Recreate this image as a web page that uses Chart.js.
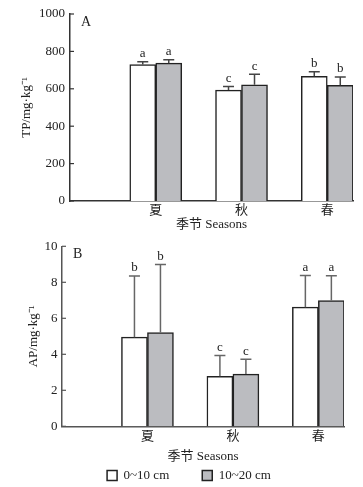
<!DOCTYPE html>
<html>
<head>
<meta charset="utf-8">
<script src="https://cdn.jsdelivr.net/npm/chart.js@4"></script>
<style>
  html, body { margin: 0; padding: 0; background: #fff; overflow: hidden; }
  canvas { display: block; }
</style>
</head>
<body>
<canvas id="chartA" width="363" height="234"></canvas>
<canvas id="chartB" width="363" height="253"></canvas>
<script>
const seasons = ["夏", "秋", "春"];
const depthLabels = ["0~10 cm", "10~20 cm"];

// A: TP (mg·kg-1)
const tpShallow    = [730, 593, 667];
const tpShallowErr = [14, 19, 24];
const tpDeep       = [737, 621, 619];
const tpDeepErr    = [19, 57, 44];
const tpShallowSig = ["a", "c", "b"];
const tpDeepSig    = ["a", "c", "b"];
const tpTicks      = [0, 200, 400, 600, 800, 1000];

// B: AP (mg·kg-1)
const apShallow    = [4.95, 2.78, 6.62];
const apShallowErr = [3.4, 1.15, 1.76];
const apDeep       = [5.21, 2.9, 6.99];
const apDeepErr    = [3.78, 0.82, 1.37];
const apShallowSig = ["b", "c", "a"];
const apDeepSig    = ["b", "c", "a"];
const apTicks      = [0, 2, 4, 6, 8, 10];

const SERIF = "'Liberation Serif', 'Noto Sans CJK SC', serif";
const TEXT = "#222";

/* ===============================
   error bars, letters, inside ticks
=============================== */
const decorPlugin = {
  id: "decor",
  afterDatasetsDraw(chart, args, opts) {
    const { ctx, chartArea } = chart;
    const y = chart.scales.y;
    ctx.save();

    chart.data.datasets.forEach((ds, di) => {
      const meta = chart.getDatasetMeta(di);
      meta.data.forEach((bar, i) => {
        const v = ds.data[i].y;
        const yBar = y.getPixelForValue(v);
        const yTop = y.getPixelForValue(v + ds.err[i]);

        ctx.strokeStyle = opts.errColor;
        ctx.lineWidth = 1.5;
        ctx.beginPath();
        ctx.moveTo(bar.x, yBar);
        ctx.lineTo(bar.x, yTop);
        ctx.moveTo(bar.x - 5.5, yTop);
        ctx.lineTo(bar.x + 5.5, yTop);
        ctx.stroke();

        ctx.fillStyle = TEXT;
        ctx.font = "13px " + SERIF;
        ctx.textAlign = "center";
        ctx.textBaseline = "middle";
        ctx.fillText(ds.sig[i], bar.x, yTop - 8);
      });
    });

    // ticks point into the plot
    ctx.strokeStyle = opts.axisColor;
    ctx.lineWidth = 1.2;
    y.ticks.forEach(t => {
      const py = y.getPixelForValue(t.value);
      ctx.beginPath();
      ctx.moveTo(chartArea.left, py);
      ctx.lineTo(chartArea.left + 4, py);
      ctx.stroke();
    });

    ctx.fillStyle = TEXT;
    ctx.font = "14px " + SERIF;
    ctx.textAlign = "left";
    ctx.textBaseline = "middle";
    ctx.fillText(opts.panel, chartArea.left + 11, chartArea.top + 8);

    ctx.restore();
  }
};

function makeChart(id, cfg) {
  const toPoints = arr => arr.map((v, i) => ({ x: i + 1, y: v }));

  return new Chart(document.getElementById(id), {
    type: "bar",
    data: {
      datasets: [
        {
          label: depthLabels[0],
          data: toPoints(cfg.shallow),
          err: cfg.shallowErr,
          sig: cfg.shallowSig,
          backgroundColor: "#ffffff",
          borderColor: "#222",
          borderWidth: 1.5,
          barThickness: 26
        },
        {
          label: depthLabels[1],
          data: toPoints(cfg.deep),
          err: cfg.deepErr,
          sig: cfg.deepSig,
          backgroundColor: "#bbbcc0",
          borderColor: "#222",
          borderWidth: 1.5,
          barThickness: 26
        }
      ]
    },
    options: {
      responsive: false,
      animation: false,
      devicePixelRatio: 1,
      layout: { padding: cfg.padding },
      plugins: {
        tooltip: { enabled: false },
        legend: {
          display: cfg.legend,
          position: "bottom",
          labels: {
            boxWidth: 10,
            boxHeight: 10,
            padding: 33,
            color: TEXT,
            font: { family: SERIF, size: 13 }
          }
        },
        decor: { panel: cfg.panel, errColor: cfg.errColor, axisColor: cfg.axisColor }
      },
      scales: {
        x: {
          type: "linear",
          min: 0,
          max: 3.3,
          offset: false,
          grid: { display: false, drawTicks: false, offset: false },
          border: { display: true, color: cfg.axisColor, width: 1.5 },
          afterBuildTicks: s => { s.ticks = seasons.map((_, i) => ({ value: i + 1 })); },
          afterFit: s => { s.height = cfg.xHeight; },
          ticks: {
            callback: v => seasons[v - 1],
            mirror: cfg.xMirror,
            padding: cfg.xTickPad,
            autoSkip: false,
            maxRotation: 0,
            color: TEXT,
            font: { family: SERIF, size: 13 }
          },
          title: {
            display: true,
            text: "季节 Seasons",
            color: TEXT,
            font: { family: SERIF, size: 13 },
            padding: { top: 0, bottom: cfg.xTitlePad }
          }
        },
        y: {
          min: cfg.ticks[0],
          max: cfg.ticks[cfg.ticks.length - 1],
          grid: { display: false, drawTicks: false },
          border: { display: true, color: cfg.axisColor, width: 1.5 },
          afterBuildTicks: s => { s.ticks = cfg.ticks.map(v => ({ value: v })); },
          afterFit: s => { s.width = cfg.yWidth; },
          ticks: {
            callback: v => String(v),
            padding: cfg.yTickPad,
            color: TEXT,
            font: { family: SERIF, size: 13 }
          },
          title: {
            display: true,
            text: cfg.yTitle,
            color: TEXT,
            font: { family: SERIF, size: 13 },
            padding: { top: cfg.yTitlePad, bottom: 0 }
          }
        }
      }
    },
    plugins: [decorPlugin]
  });
}

makeChart("chartA", {
  panel: "A",
  shallow: tpShallow, shallowErr: tpShallowErr, shallowSig: tpShallowSig,
  deep: tpDeep, deepErr: tpDeepErr, deepSig: tpDeepSig,
  ticks: tpTicks,
  yTitle: "TP/mg·kg⁻¹",
  legend: false,
  padding: { top: 14, right: 10, bottom: 0, left: 0 },
  xHeight: 33, xMirror: false, xTickPad: 2, xTitlePad: 1.2,
  yWidth: 70, yTickPad: 5, yTitlePad: 19,
  errColor: "#444", axisColor: "#333"
});

// B sits above the legend, so its season labels hang below a short axis box
makeChart("chartB", {
  panel: "B",
  shallow: apShallow, shallowErr: apShallowErr, shallowSig: apShallowSig,
  deep: apDeep, deepErr: apDeepErr, deepSig: apDeepSig,
  ticks: apTicks,
  yTitle: "AP/mg·kg⁻¹",
  legend: true,
  padding: { top: 5, right: 19, bottom: -5, left: 34 },
  xHeight: 9.7, xMirror: true, xTickPad: -18.5, xTitlePad: -28.8,
  yWidth: 28, yTickPad: 4.5, yTitlePad: -8,
  errColor: "#666", axisColor: "#555"
});
</script>
</body>
</html>
